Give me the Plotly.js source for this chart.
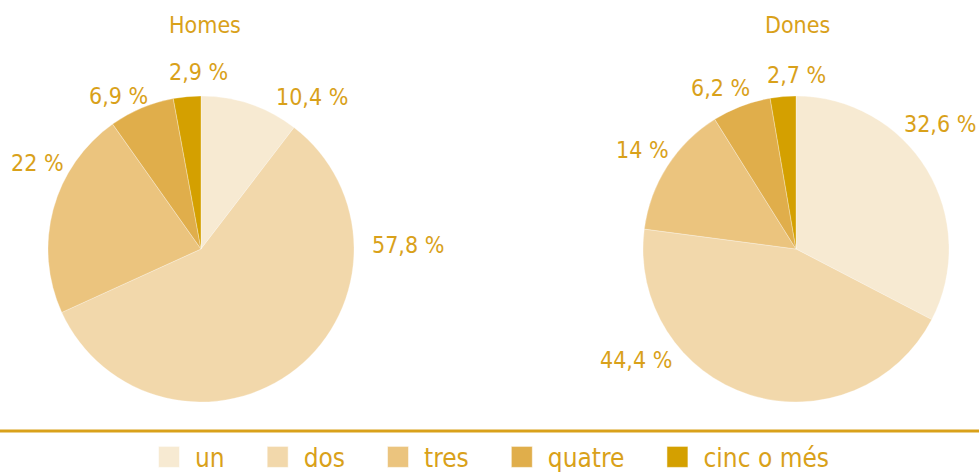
<!DOCTYPE html>
<html><head><meta charset="utf-8">
<script src="https://cdn.plot.ly/plotly-3.0.1.min.js"></script>
<style>html,body{margin:0;padding:0;background:#fff}#chart{width:979px;height:472px}
#chart .legend .scrollbox, #chart .legend g[clip-path]{clip-path:none !important}
#chart .legend .legendpoints path{transform:translate(48px,0) scale(1.75)}</style>
</head><body><div id="chart"></div>
<script>
const categories = ['un', 'dos', 'tres', 'quatre', 'cinc o més'];
const homesValues = [10.4, 57.8, 22, 6.9, 2.9];
const donesValues = [32.6, 44.4, 14, 6.2, 2.7];
const groupTitles = ['Homes', 'Dones'];
const sliceColors = ['#F7EAD2', '#F2D8AB', '#EBC47E', '#E0AE4B', '#D4A000'];

const FONT = '"Liberation Sans Narrow", "DejaVu Sans Condensed", "Arial Narrow", sans-serif';
const GOLD = '#D9A11A';
const fmt = v => String(v).replace('.', ',') + ' %';

// label anchor positions (pixels) for each slice, in category order
const homesLabelPos = [[312, 97], [408, 245], [37, 163], [118, 96], [198, 72]];
const donesLabelPos = [[940, 124], [636, 360], [642, 150], [720, 88], [796, 75]];

const W = 979, H = 472;
const pieY = [1 - 402 / H, 1 - 96 / H];

function pie(values, xdom, showlegend) {
  return {
    type: 'pie', labels: categories, values: values, sort: false,
    direction: 'clockwise', rotation: 0, textinfo: 'none', hoverinfo: 'label+value',
    marker: {colors: sliceColors, line: {color: 'rgba(255,255,255,0.6)', width: 0.5}},
    domain: {x: xdom, y: pieY}, showlegend: showlegend
  };
}

const annotations = [];
function addLabels(values, pos) {
  values.forEach((v, i) => annotations.push({
    xref: 'paper', yref: 'paper', x: pos[i][0] / W, y: 1 - pos[i][1] / H,
    xanchor: 'center', yanchor: 'middle', showarrow: false, text: fmt(v),
    font: {family: FONT, size: 23, color: GOLD}
  }));
}
addLabels(homesValues, homesLabelPos);
addLabels(donesValues, donesLabelPos);
[[205, 25], [797, 25]].forEach((p, i) => annotations.push({
  xref: 'paper', yref: 'paper', x: p[0] / W, y: 1 - p[1] / H, xanchor: 'center', yanchor: 'middle',
  showarrow: false, text: groupTitles[i], font: {family: FONT, size: 23, color: GOLD}
}));

const data = [pie(homesValues, [48 / W, 354 / W], true), pie(donesValues, [643 / W, 949 / W], false)];
const layout = {
  width: W, height: H, margin: {l: 0, r: 0, t: 0, b: 0, autoexpand: false},
  paper_bgcolor: '#fff', plot_bgcolor: '#fff',
  font: {family: FONT, color: GOLD, size: 23},
  annotations: annotations,
  shapes: [{type: 'line', xref: 'paper', yref: 'paper', x0: 0, x1: 1, y0: 1 - 431 / H, y1: 1 - 431 / H,
    line: {color: GOLD, width: 3}}],
  legend: {orientation: 'h', x: 121 / W, xanchor: 'left', y: 1 - 457 / H, yanchor: 'middle',
    itemwidth: 64,
    font: {family: FONT, size: 26, color: GOLD}, traceorder: 'normal'}
};
Plotly.newPlot('chart', data, layout, {displayModeBar: false, staticPlot: true});
</script></body></html>
